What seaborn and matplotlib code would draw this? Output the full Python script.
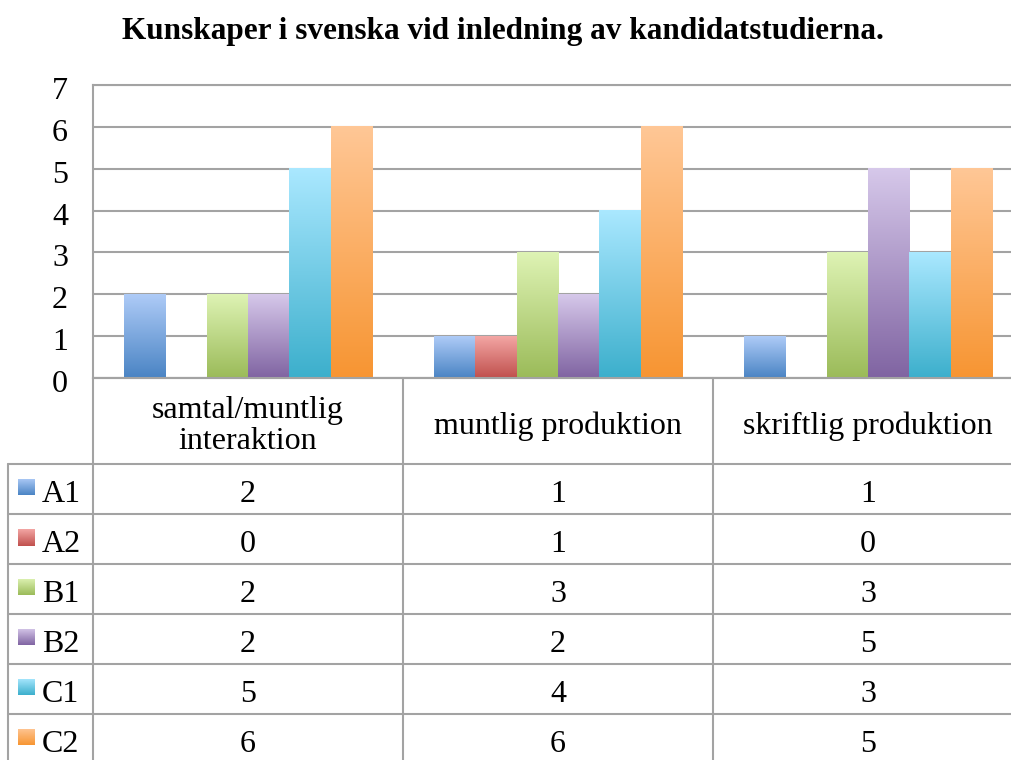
import numpy as np
import pandas as pd
import seaborn as sns
import matplotlib
matplotlib.use("Agg")
import matplotlib.pyplot as plt
from matplotlib.lines import Line2D
from matplotlib.colors import to_rgb
import matplotlib.transforms as mtransforms

kategorier = ["samtal/muntlig\ninteraktion", "muntlig produktion", "skriftlig produktion"]
nivaer = ["A1", "A2", "B1", "B2", "C1", "C2"]
A1 = [2, 1, 1]
A2 = [0, 1, 0]
B1 = [2, 3, 3]
B2 = [2, 2, 5]
C1 = [5, 4, 3]
C2 = [6, 6, 5]
titel = "Kunskaper i svenska vid inledning av kandidatstudierna."

# gradient colours per level (top, bottom)
farger = {
    "A1": ("#aecbf7", "#4a84c4"),
    "A2": ("#f3a6a4", "#c0504d"),
    "B1": ("#def3b4", "#9bbb59"),
    "B2": ("#d6c8ea", "#8064a2"),
    "C1": ("#aae8ff", "#3cafcc"),
    "C2": ("#ffc796", "#f79532"),
}
grid_col = "#a3a3a3"

serie = {"A1": A1, "A2": A2, "B1": B1, "B2": B2, "C1": C1, "C2": C2}
df = pd.DataFrame(
    [(k, n, serie[n][i]) for n in nivaer for i, k in enumerate(kategorier)],
    columns=["kategori", "niva", "antal"],
)

sns.set_style("white")
plt.rcParams["font.family"] = ["Liberation Serif", "DejaVu Serif"]
plt.rcParams["text.color"] = "black"
plt.rcParams["ytick.color"] = "black"
fs = 23

W, H = 1012, 760
fig = plt.figure(figsize=(W / 100, H / 100), dpi=100)
ax_l, ax_r, ax_top, ax_bot = 93, 1023, 85, 378
ax = fig.add_axes([ax_l / W, 1 - ax_bot / H, (ax_r - ax_l) / W, (ax_bot - ax_top) / H])

pal = {n: farger[n][1] for n in nivaer}
sns.barplot(data=df, x="kategori", y="antal", hue="niva", hue_order=nivaer,
            palette=pal, width=0.8, saturation=1, legend=False, ax=ax, zorder=3)

def gradient(top, bot, n=128):
    t = np.linspace(0, 1, n)[:, None]
    c0, c1 = np.array(to_rgb(top)), np.array(to_rgb(bot))
    return (c0 * (1 - t) + c1 * t)[:, None, :]

for niva, cont in zip(nivaer, ax.containers):
    img = gradient(*farger[niva])
    for bar in cont:
        h = bar.get_height()
        if h <= 0:
            continue
        x0 = bar.get_x()
        ax.imshow(img, extent=(x0, x0 + bar.get_width(), 0, h), aspect="auto",
                  origin="upper", zorder=4, interpolation="bilinear")
        bar.set_facecolor("none")
        bar.set_edgecolor("none")

ax.set_xlim(-0.5, 2.5)
ax.set_ylim(0, 7)
ax.set_yticks(range(0, 8))
ax.yaxis.grid(True, color=grid_col, lw=1.5, zorder=0)
ax.set_axisbelow(True)
ax.set_xticks([])
ax.set_xlabel("")
ax.set_ylabel("")
ax.tick_params(axis="y", length=0, pad=18, labelsize=fs, labelcolor="black")
down = mtransforms.ScaledTranslation(0, -3 / 100, fig.dpi_scale_trans)
for lab in ax.get_yticklabels():
    lab.set_transform(lab.get_transform() + down)
for s in ["left", "bottom", "top"]:
    ax.spines[s].set_color(grid_col)
    ax.spines[s].set_linewidth(1.5)
ax.spines["right"].set_visible(False)

fig.text(0.497, 1 - 32 / H, titel, ha="center", va="center", fontsize=22.5,
         fontweight="bold")

# data table below the axis
blend = mtransforms.blended_transform_factory(ax.transData, fig.transFigure)
y_head_top = 1 - ax_bot / H
y_head_bot = 1 - 464 / H
row_h = 50 / H
n_rows = len(nivaer)
y_end = y_head_bot - n_rows * row_h
lab_l = 8 / W
lab_r = ax_l / W
txt_off = 5 / H

def fline(xs, ys, transform):
    fig.add_artist(Line2D(xs, ys, transform=transform, color=grid_col, lw=1.5, clip_on=False))

# column separators
for xb in [-0.5, 0.5, 1.5, 2.5]:
    fline([xb, xb], [y_head_top, y_end], blend)
fline([lab_l, lab_l], [y_head_bot, y_end], fig.transFigure)
# row separators
fline([-0.5, 2.5], [y_head_top, y_head_top], blend)
for r in range(n_rows + 1):
    y = y_head_bot - r * row_h
    fline([lab_l, lab_r], [y, y], fig.transFigure)
    fline([-0.5, 2.5], [y, y], blend)

# header texts
for i, k in enumerate(kategorier):
    fig.text(i, (y_head_top + y_head_bot) / 2 - 5 / H, k, transform=blend, ha="center",
             va="center", fontsize=fs, linespacing=1.12)

# rows with legend keys
sq = 17
for r, niva in enumerate(nivaer):
    yc = y_head_bot - (r + 0.5) * row_h
    kax = fig.add_axes([18 / W, yc - (sq / 2 - 2) / H, sq / W, sq / H])
    kax.imshow(gradient(*farger[niva]), aspect="auto", interpolation="bilinear")
    kax.set_axis_off()
    fig.text(42 / W, yc - txt_off, niva, ha="left", va="center", fontsize=fs)
    for i in range(len(kategorier)):
        fig.text(i, yc - txt_off, str(serie[niva][i]), transform=blend, ha="center",
                 va="center", fontsize=fs)

fig.savefig("out.png", dpi=100, facecolor="white")
